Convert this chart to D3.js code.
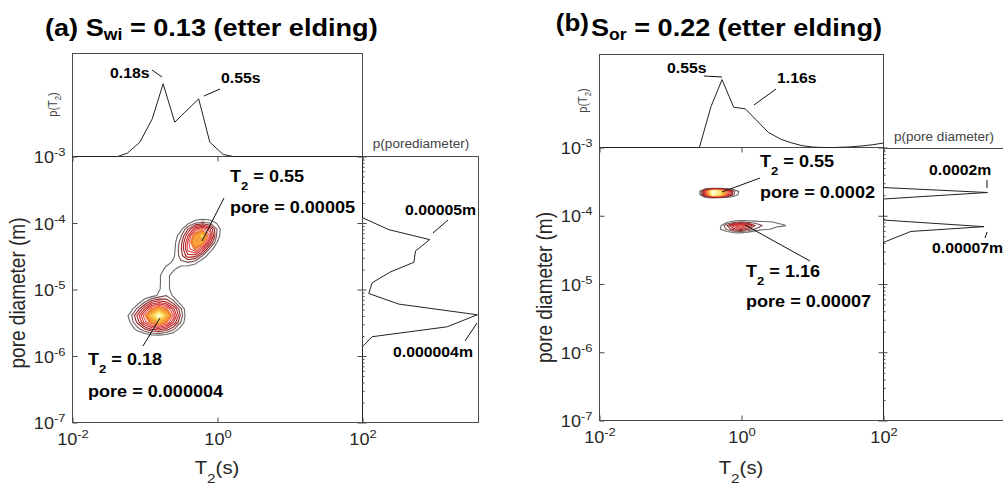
<!DOCTYPE html>
<html>
<head>
<meta charset="utf-8">
<script src="https://cdn.jsdelivr.net/npm/d3@7"></script>
<style>
  body { margin: 0; background: #fff; }
  text { font-family: "Liberation Sans", Arial, sans-serif; white-space: pre; }
</style>
</head>
<body>
<svg id="chart"></svg>
<script>
// ---- shared axis values ----
const t2Ticks = [1e-2, 1e0, 1e2];
const poreTicks = [1e-7, 1e-6, 1e-5, 1e-4, 1e-3];
const contourLevels = [1, 1.8, 2.6, 3.3, 4.0, 4.6, 5.2, 5.8, 6.6, 7.5, 8.5, 9.3];

// ---- panel (a): Swi = 0.13 ----
// marginal p(T2)
const margA_t2 = [0.01, 0.042, 0.057, 0.085, 0.126, 0.178, 0.257, 0.55, 0.783, 1.2, 1.66, 100];
const margA_p  = [0, 0, 0.032, 0.139, 0.366, 0.706, 0.333, 0.56, 0.139, 0.019, 0, 0];
// marginal p(pore diameter)
const margA_pore = [1e-3, 1.2e-4, 7.94e-5, 5.62e-5, 3.8e-5, 2.57e-5, 1.82e-5, 1.26e-5, 8.71e-6, 6.03e-6, 4.17e-6, 2.75e-6, 1.95e-6, 1.38e-6, 1e-7];
const margA_pp   = [0, 0, 0.227, 0.58, 0.457, 0.443, 0.236, 0.083, 0.054, 0.313, 0.99, 0.73, 0.083, 0, 0];
// 2D density grid (log10 T2 columns, log10 pore rows)
const gridA_t2Exp = [-1.4, -1.3, -1.2, -1.1, -1.0, -0.9, -0.8, -0.7, -0.6, -0.5, -0.4, -0.3, -0.2, -0.1, 0.0, 0.1, 0.2];
const gridA_poreExp = [-3.8, -3.9, -4.0, -4.1, -4.2, -4.3, -4.4, -4.5, -4.6, -4.7, -4.8, -4.9, -5.0, -5.1, -5.2, -5.3, -5.4, -5.5, -5.6, -5.7, -5.8];
const gridA_z = [
  [0, 0,   0,   0,   0,   0,   0,   0,   0,   0,   0,   0,   0,   0,   0,   0, 0],
  [0, 0,   0,   0,   0,   0,   0,   0,   0,   0,   0,   0,   0,   0,   0,   0, 0],
  [0, 0,   0,   0,   0,   0,   0,   0,   0,   0,   0.6, 1.5, 1.9, 1.6, 0.8, 0, 0],
  [0, 0,   0,   0,   0,   0,   0,   0,   0,   0.7, 2.6, 4.6, 5.6, 4.2, 1.8, 0, 0],
  [0, 0,   0,   0,   0,   0,   0,   0,   0.3, 1.6, 4.0, 6.8, 7.8, 5.2, 1.6, 0, 0],
  [0, 0,   0,   0,   0,   0,   0,   0,   0.5, 2.2, 4.8, 7.4, 6.8, 3.6, 1.0, 0, 0],
  [0, 0,   0,   0,   0,   0,   0,   0,   0.6, 2.4, 4.9, 6.0, 4.2, 1.6, 0.2, 0, 0],
  [0, 0,   0,   0,   0,   0,   0,   0,   0.8, 2.2, 3.8, 3.6, 1.8, 0.4, 0,   0, 0],
  [0, 0,   0,   0,   0,   0,   0,   0.6, 1.2, 1.6, 1.8, 1.3, 0.3, 0,   0,   0, 0],
  [0, 0,   0,   0,   0,   0,   0.4, 1.3, 1.2, 0.5, 0.2, 0,   0,   0,   0,   0, 0],
  [0, 0,   0,   0,   0,   0,   0.9, 1.4, 0.5, 0,   0,   0,   0,   0,   0,   0, 0],
  [0, 0,   0,   0,   0,   0,   0.9, 1.4, 0.5, 0,   0,   0,   0,   0,   0,   0, 0],
  [0, 0,   0,   0,   0,   0.2, 0.9, 1.5, 0.4, 0,   0,   0,   0,   0,   0,   0, 0],
  [0, 0,   0,   0,   0.2, 0.6, 1.2, 1.8, 0.8, 0.1, 0,   0,   0,   0,   0,   0, 0],
  [0, 0,   0,   0.4, 1.8, 3.3, 3.9, 3.4, 2.2, 0.5, 0,   0,   0,   0,   0,   0, 0],
  [0, 0,   0.4, 2.0, 4.0, 6.0, 6.9, 6.1, 4.2, 2.0, 0,   0,   0,   0,   0,   0, 0],
  [0, 0.2, 1.3, 3.4, 5.6, 7.8, 10,  7.6, 5.2, 2.4, 0,   0,   0,   0,   0,   0, 0],
  [0, 0,   1.0, 2.8, 4.8, 6.4, 7.2, 6.0, 4.0, 1.8, 0,   0,   0,   0,   0,   0, 0],
  [0, 0,   0.3, 1.4, 2.6, 3.5, 3.8, 3.2, 2.0, 0.6, 0,   0,   0,   0,   0,   0, 0],
  [0, 0,   0,   0,   0.3, 0.7, 0.8, 0.6, 0.2, 0,   0,   0,   0,   0,   0,   0, 0],
  [0, 0,   0,   0,   0,   0,   0,   0,   0,   0,   0,   0,   0,   0,   0,   0, 0]
];

// ---- panel (b): Sor = 0.22 ----
const margB_t2 = [0.01, 0.255, 0.372, 0.532, 0.776, 1.13, 2.4, 3.55, 4.85, 7.08, 10, 14.1, 20, 31.6, 50.1, 70.8, 100];
const margB_p  = [0, 0, 0.44, 0.73, 0.433, 0.416, 0.162, 0.09, 0.054, 0.02, 0.005, 0, 0, 0.005, 0.017, 0.03, 0.048];
const margB_pore = [1e-3, 2.59e-4, 2.19e-4, 1.76e-4, 8.65e-5, 6.92e-5, 5.89e-5, 4.07e-5, 1e-7];
const margB_pp   = [0, 0, 1.0, 0, 0, 0.967, 0.263, 0, 0];
const gridB_t2Exp = [-0.8, -0.7, -0.6, -0.5, -0.4, -0.3, -0.2, -0.1, 0.0, 0.1, 0.2, 0.3, 0.4, 0.5, 0.6, 0.7, 0.8];
const gridB_poreExp = [-3.55, -3.6, -3.65, -3.7, -3.75, -3.8, -3.85, -3.9, -3.95, -4.0, -4.05, -4.1, -4.15, -4.2, -4.25, -4.3, -4.35];
const gridB_z = [
  [0, 0, 0, 0,   0,   0,   0,   0,   0,   0,   0,   0,   0,   0,   0,   0,   0],
  [0, 0, 0, 0,   0,   0,   0,   0,   0,   0,   0,   0,   0,   0,   0,   0,   0],
  [0, 0, 0, 5.0, 10,  9.0, 6.0, 2.0, 0.5, 0,   0,   0,   0,   0,   0,   0,   0],
  [0, 0, 0, 4.5, 9.5, 8.5, 5.5, 1.8, 0.4, 0,   0,   0,   0,   0,   0,   0,   0],
  [0, 0, 0, 0,   0,   0,   0,   0,   0,   0,   0,   0,   0,   0,   0,   0,   0],
  [0, 0, 0, 0,   0,   0,   0,   0,   0,   0,   0,   0,   0,   0,   0,   0,   0],
  [0, 0, 0, 0,   0,   0,   0,   0,   0,   0,   0,   0,   0,   0,   0,   0,   0],
  [0, 0, 0, 0,   0,   0,   0,   0,   0,   0,   0,   0,   0,   0,   0,   0,   0],
  [0, 0, 0, 0,   0,   0,   0,   0,   0,   0,   0,   0,   0,   0,   0,   0,   0],
  [0, 0, 0, 0,   0,   0,   0,   0,   0,   0,   0,   0,   0,   0,   0,   0,   0],
  [0, 0, 0, 0,   0,   0,   0,   0,   0,   0,   0,   0,   0,   0,   0,   0,   0],
  [0, 0, 0, 0,   0,   0,   0.8, 1.5, 1.8, 1.6, 1.4, 1.2, 1.1, 0.9, 0.3, 0,   0],
  [0, 0, 0, 0,   0,   0.6, 2.5, 4.5, 5.5, 4.2, 2.6, 1.8, 1.4, 1.3, 1.2, 0.5, 0],
  [0, 0, 0, 0,   0,   0.9, 2.0, 3.2, 3.8, 2.8, 1.8, 1.3, 1.1, 0.6, 0.2, 0,   0],
  [0, 0, 0, 0,   0,   0,   0.7, 1.1, 1.2, 0.9, 0.4, 0,   0,   0,   0,   0,   0],
  [0, 0, 0, 0,   0,   0,   0,   0,   0,   0,   0,   0,   0,   0,   0,   0,   0],
  [0, 0, 0, 0,   0,   0,   0,   0,   0,   0,   0,   0,   0,   0,   0,   0,   0]
];

// ---- styles ----
const W = 1003, H = 486;
const SX = 1.13;              // horizontal stretch of the original figure's text
const AXIS = '#4a4a4a', TICK = '#262626', SMALL = '#444';
// one colour per contour level; the upper levels are filled (dense core)
const contourColors = ['#6a6a6a', '#7a5050', '#922828', '#ad2222', '#c62a2a', '#d83a3a', '#e65050',
                       '#f07a34', '#f6a23c', '#fbcb4c', '#ffe97e', '#fffad0'];
const FILL_FROM = 7;

const svg = d3.select('#chart').attr('width', W).attr('height', H);
svg.append('rect').attr('width', W).attr('height', H).attr('fill', '#fff');

// text with sub/superscripts, stretched horizontally like the source
function rich(sel, x, y, parts, o = {}) {
  const size = o.size || 16;
  const t = sel.append('text')
    .attr('transform', `translate(${x},${y}) scale(${SX},1)` + (o.rotate ? ` rotate(${o.rotate})` : ''))
    .attr('font-size', size)
    .attr('font-weight', o.bold ? 'bold' : 'normal')
    .attr('fill', o.fill || '#000')
    .attr('text-anchor', o.anchor || 'start');
  let shift = 0;
  parts.forEach(pt => {
    const s = typeof pt === 'string' ? { t: pt } : pt;
    const target = s.sub ? size * (o.subShift || 0.35) : s.sup ? -size * 0.45 : 0;
    t.append('tspan')
      .attr('dy', target - shift)
      .attr('font-size', (s.sub || s.sup) ? size * (o.subScale || 0.7) : size)
      .text(s.t);
    shift = target;
  });
  return t;
}

function powLabel(sel, d, anchor, dx, dy) {
  const e = Math.round(Math.log10(d));
  const t = sel.append('text')
    .attr('transform', `translate(${dx},${dy}) scale(${SX},1)`)
    .attr('text-anchor', anchor)
    .attr('font-size', 16)
    .attr('fill', TICK);
  t.append('tspan').text('10');
  t.append('tspan').attr('dy', -7).attr('font-size', 11.5).text(String(e));
}

function leader(g, x1, y1, x2, y2) {
  g.append('line').attr('x1', x1).attr('y1', y1).attr('x2', x2).attr('y2', y2)
    .attr('stroke', '#111').attr('stroke-width', 1);
}

function drawPanel(p) {
  const g = svg.append('g');
  const x = d3.scaleLog().domain([1e-2, 1e2]).range([p.left, p.right]);
  const y = d3.scaleLog().domain([1e-7, 1e-3]).range([p.bottom, p.top]);
  const yTop = d3.scaleLinear().domain([0, 1]).range([p.top, p.margTop]);
  const xRight = d3.scaleLinear().domain([0, 1]).range([p.right, p.right + p.rightUnit]);

  // contours of the joint density
  const nx = p.t2Exp.length, ny = p.poreExp.length;
  const at = (arr, c) => {
    const i = Math.max(0, Math.min(arr.length - 1.0001, c - 0.5));
    const i0 = Math.floor(i);
    return arr[i0] + (arr[i0 + 1] - arr[i0]) * (i - i0);
  };
  const proj = d3.geoTransform({
    point(px, py) { this.stream.point(x(10 ** at(p.t2Exp, px)), y(10 ** at(p.poreExp, py))); }
  });
  const path = d3.geoPath(proj);
  const sets = d3.contours().size([nx, ny]).thresholds(contourLevels)(p.z.flat());
  g.append('g').selectAll('path').data(sets).join('path')
    .attr('d', path)
    .attr('fill', (d, i) => i >= FILL_FROM ? contourColors[i] : 'none')
    .attr('stroke', (d, i) => contourColors[i])
    .attr('stroke-width', 1.1)
    .attr('stroke-linejoin', 'round');

  // frames
  const frame = (x0, y0, x1, y1) => g.append('rect')
    .attr('x', x0 + 0.5).attr('y', y0 + 0.5).attr('width', x1 - x0).attr('height', y1 - y0)
    .attr('fill', 'none').attr('stroke', AXIS).attr('stroke-width', 1);
  frame(p.left, p.top, p.right, p.bottom);
  frame(p.left, p.margTop, p.right, p.top);
  frame(p.right, p.rightTop, p.rightEdge, p.bottom);

  // marginal curves
  g.append('path').datum(d3.zip(p.mT2, p.mP))
    .attr('d', d3.line().x(d => x(d[0]) + 0.5).y(d => yTop(d[1]) + 0.5))
    .attr('fill', 'none').attr('stroke', '#222').attr('stroke-width', 1);
  g.append('path').datum(d3.zip(p.mPore, p.mPP))
    .attr('d', d3.line().x(d => xRight(d[1]) + 0.5).y(d => y(d[0]) + 0.5))
    .attr('fill', 'none').attr('stroke', '#222').attr('stroke-width', 1);

  // axes (ticks inside, MATLAB style)
  const styleAxis = a => { a.select('.domain').remove(); a.selectAll('.tick line').attr('stroke', AXIS); a.selectAll('.tick text').remove(); };
  const gx = g.append('g').attr('transform', `translate(0.5,${p.bottom + 0.5})`)
    .call(d3.axisBottom(x).tickValues(t2Ticks).tickSizeInner(-5).tickSizeOuter(0)).call(styleAxis);
  gx.selectAll('.tick').each(function (d) { powLabel(d3.select(this), d, 'middle', 0, 22); });
  g.append('g').attr('transform', `translate(0.5,${p.top + 0.5})`)
    .call(d3.axisTop(x).tickValues(t2Ticks).tickSizeInner(-5).tickSizeOuter(0)).call(styleAxis);
  const gy = g.append('g').attr('transform', `translate(${p.left + 0.5},0.5)`)
    .call(d3.axisLeft(y).tickValues(poreTicks).tickSizeInner(-5).tickSizeOuter(0)).call(styleAxis);
  gy.selectAll('.tick').each(function (d) { powLabel(d3.select(this), d, 'end', -7, 6); });
  g.append('g').attr('transform', `translate(${p.right + 0.5},0.5)`)
    .call(d3.axisRight(y).tickValues(poreTicks).tickSizeInner(-5).tickSizeOuter(0)).call(styleAxis);
  // right marginal's own log axis ticks
  const minors = [];
  [-7, -6, -5, -4].forEach(e => { for (let k = 2; k < 10; k++) minors.push(k * 10 ** e); });
  g.append('g').attr('transform', `translate(${p.right + 0.5},0.5)`)
    .call(d3.axisRight(y).tickValues(minors).tickSizeInner(2).tickSizeOuter(0)).call(styleAxis);
  g.append('g').attr('transform', `translate(${p.right + 0.5},0.5)`)
    .call(d3.axisRight(y).tickValues(poreTicks).tickSizeInner(4).tickSizeOuter(0)).call(styleAxis);

  // axis titles
  rich(g, (p.left + p.right) / 2, 474, ['T', { t: '2', sub: true }, '(s)'],
    { size: 18, anchor: 'middle', fill: TICK, subShift: 0.5, subScale: 0.75 });
  rich(g, p.yTitleX, (p.top + p.bottom) / 2 + 4, ['pore diameter (m)'],
    { size: 19, anchor: 'middle', fill: TICK, rotate: -90 });
  rich(g, p.pT2X, (p.margTop + p.top) / 2, ['p(T', { t: '2', sub: true }, ')'],
    { size: 11, anchor: 'middle', fill: SMALL, rotate: -90, subShift: 0.35 });
  rich(g, p.pPoreX, p.pPoreY, [p.pPoreLabel], { size: 12, anchor: 'middle', fill: SMALL });

  // annotations
  p.notes.forEach(n => {
    if (n.line) leader(g, ...n.line);
    n.text.forEach(([tx, ty, parts]) => rich(g, tx, ty, parts, { size: n.size, bold: true, subShift: 0.5, subScale: 0.72 }));
  });
  return g;
}

drawPanel({
  left: 72, right: 362, top: 156, bottom: 422, margTop: 53, rightEdge: 478, rightTop: 156, rightUnit: 116,
  t2Exp: gridA_t2Exp, poreExp: gridA_poreExp, z: gridA_z,
  mT2: margA_t2, mP: margA_p, mPore: margA_pore, mPP: margA_pp,
  yTitleX: 25, pT2X: 57, pPoreX: 421, pPoreY: 148, pPoreLabel: 'p(porediameter)',
  notes: [
    { size: 14, line: [152, 70, 162, 77], text: [[110, 78, ['0.18s']]] },
    { size: 14, line: [204, 96, 220, 89], text: [[221, 83, ['0.55s']]] },
    { size: 16, line: [224, 198, 202, 241], text: [[230, 182, ['T', { t: '2', sub: true }, ' = 0.55']], [230, 213, ['pore = 0.00005']]] },
    { size: 16, line: [160, 318, 143, 346], text: [[88, 365, ['T', { t: '2', sub: true }, ' = 0.18']], [88, 397, ['pore = 0.000004']]] },
    { size: 14, line: [433, 233, 448, 220], text: [[405, 215, ['0.00005m']]] },
    { size: 14, line: [465, 341, 477, 323], text: [[393, 357, ['0.000004m']]] }
  ]
});

drawPanel({
  left: 599, right: 883, top: 147, bottom: 420, margTop: 54, rightEdge: 1012, rightTop: 148, rightUnit: 104,
  t2Exp: gridB_t2Exp, poreExp: gridB_poreExp, z: gridB_z,
  mT2: margB_t2, mP: margB_p, mPore: margB_pore, mPP: margB_pp,
  yTitleX: 552, pT2X: 587, pPoreX: 944, pPoreY: 141, pPoreLabel: 'p(pore diameter)',
  notes: [
    { size: 14, line: [704, 76, 722, 77], text: [[667, 73, ['0.55s']]] },
    { size: 14, line: [754, 105, 776, 89], text: [[777, 83, ['1.16s']]] },
    { size: 16, line: [760, 178, 722, 192], text: [[760, 167, ['T', { t: '2', sub: true }, ' = 0.55']], [760, 198, ['pore = 0.0002']]] },
    { size: 16, line: [810, 261, 745, 225], text: [[746, 277, ['T', { t: '2', sub: true }, ' = 1.16']], [746, 307, ['pore = 0.00007']]] },
    { size: 14, line: [987, 180, 987, 188], text: [[929, 175, ['0.0002m']]] },
    { size: 14, line: [985, 238, 987, 232], text: [[932, 253, ['0.00007m']]] }
  ]
});

// panel titles
rich(svg, 45, 36, ['(a) S', { t: 'wi', sub: true }, ' = 0.13 (etter elding)'],
  { size: 24, bold: true, subShift: 0.16, subScale: 0.65 });
rich(svg, 589, 31, ['(b)'], { size: 23, bold: true, anchor: 'end' });
rich(svg, 591, 36, ['S', { t: 'or', sub: true }, ' = 0.22 (etter elding)'],
  { size: 24, bold: true, subShift: 0.16, subScale: 0.65 });
</script>
</body>
</html>
